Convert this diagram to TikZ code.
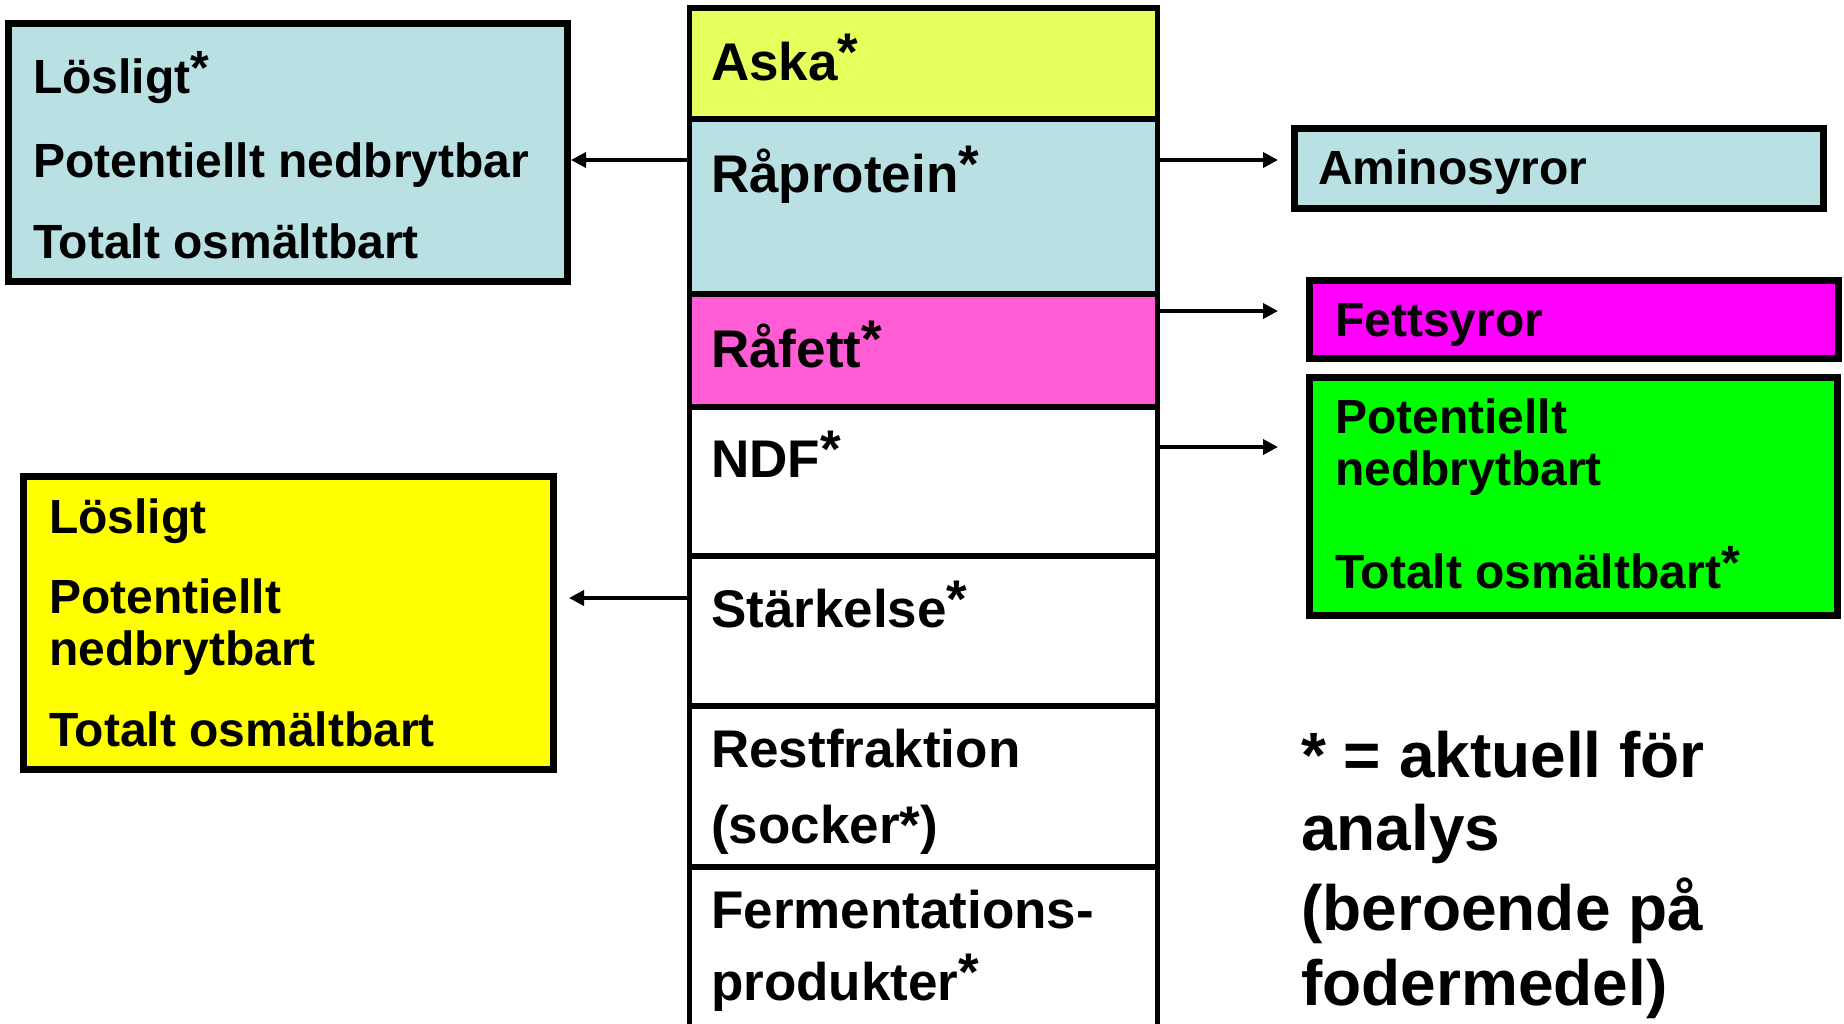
\documentclass[tikz,border=0pt]{standalone}
\usepackage{fontspec}
\setmainfont{Liberation Sans}
\usetikzlibrary{arrows.meta}
\definecolor{lblue}{RGB}{185,224,227}
\definecolor{askacol}{RGB}{229,255,92}
\definecolor{fettcol}{RGB}{255,92,214}
\definecolor{magcol}{RGB}{255,0,255}
\definecolor{grncol}{RGB}{0,255,0}
\definecolor{ylwcol}{RGB}{255,255,0}
\newcommand\stern{\raisebox{0.18em}{*}}
\begin{document}
\begin{tikzpicture}[x=1pt,y=-1pt,
  cell/.style={draw, line width=5.5pt, minimum width=468pt, inner sep=0pt},
  sbox/.style={draw, line width=7pt, inner sep=0pt},
  colt/.style={font=\fontsize{53}{53}\selectfont\bfseries, inner sep=0pt, anchor=base west},
  boxt/.style={font=\fontsize{48}{48}\selectfont\bfseries, inner sep=0pt, anchor=base west},
  legt/.style={font=\fontsize{64}{64}\selectfont\bfseries, inner sep=0pt, anchor=base west},
  arr/.style={line width=3.5pt, -{Triangle[length=15pt,width=15pt]}}]
\path[use as bounding box] (0,0) rectangle (1844,1023);
\begin{scope}
\clip (0,0) rectangle (1844,1023);
% central column
\node[cell, fill=askacol, minimum height=111pt] (aska) at (923.5,63.5) {};
\node[cell, fill=lblue, minimum height=175pt] (rapro) at (923.5,206.5) {};
\node[cell, fill=fettcol, minimum height=113pt] (rafett) at (923.5,350.5) {};
\node[cell, fill=white, minimum height=149pt] (ndf) at (923.5,481.5) {};
\node[cell, fill=white, minimum height=150pt] (stark) at (923.5,631) {};
\node[cell, fill=white, minimum height=161pt] (rest) at (923.5,786.5) {};
\node[cell, fill=white, minimum height=193pt] (ferm) at (923.5,963.5) {};
\end{scope}
\node[colt] (taska) at (711,80) {Aska\stern};
\node[colt] (trapro) at (711,192) {Råprotein\stern};
\node[colt] (trafett) at (711,367) {Råfett\stern};
\node[colt] (tndf) at (711,477) {NDF\stern};
\node[colt] (tstark) at (711,627) {Stärkelse\stern};
\node[colt] (trest1) at (711,767) {Restfraktion};
\node[colt] (trest2) at (711,843) {(socker*)};
\node[colt] (tferm1) at (711,928) {Fermentations-};
\node[colt] (tferm2) at (711,1000) {produkter\stern};
% side boxes
\node[sbox, fill=lblue, minimum width=559pt, minimum height=258pt] (lt) at (288,152.5) {};
\node[sbox, fill=ylwcol, minimum width=530pt, minimum height=293pt] (ly) at (288.5,623) {};
\node[sbox, fill=lblue, minimum width=529pt, minimum height=80pt] (amino) at (1559,168.5) {};
\node[sbox, fill=magcol, minimum width=529pt, minimum height=78pt] (fett) at (1574,319.5) {};
\node[sbox, fill=grncol, minimum width=528pt, minimum height=238pt] (grn) at (1573.5,496.5) {};
% box texts
\node[boxt] (lt1) at (33,93) {Lösligt\stern};
\node[boxt] (lt2) at (33,177) {Potentiellt nedbrytbar};
\node[boxt] (lt3) at (33,258) {Totalt osmältbart};
\node[boxt] (ly1) at (49,533) {Lösligt};
\node[boxt] (ly2) at (49,613) {Potentiellt};
\node[boxt] (ly3) at (49,665) {nedbrytbart};
\node[boxt] (ly4) at (49,746) {Totalt osmältbart};
\node[boxt] (am1) at (1318,184) {Aminosyror};
\node[boxt] (fe1) at (1335,336) {Fettsyror};
\node[boxt] (gr1) at (1335,433) {Potentiellt};
\node[boxt] (gr2) at (1335,485) {nedbrytbart};
\node[boxt] (gr3) at (1335,588) {Totalt osmältbart\stern};
% legend
\node[legt] (lg1) at (1301,777) {* = aktuell för};
\node[legt] (lg2) at (1301,850) {analys};
\node[legt] (lg3) at (1301,930) {(beroende på};
\node[legt] (lg4) at (1301,1005) {fodermedel)};
% arrows
\draw[arr] (rapro.west |- 0,160) -- (lt.east |- 0,160);
\draw[arr] (stark.west |- 0,598) -- ([xshift=12pt]ly.east |- 0,598);
\draw[arr, shorten >=13pt] (rapro.east |- 0,160) -- (amino.west |- 0,160);
\draw[arr, shorten >=28pt] (rafett.east |- 0,311) -- (fett.west |- 0,311);
\draw[arr, shorten >=28pt] (ndf.east |- 0,447) -- (grn.west |- 0,447);
\end{tikzpicture}
\end{document}
